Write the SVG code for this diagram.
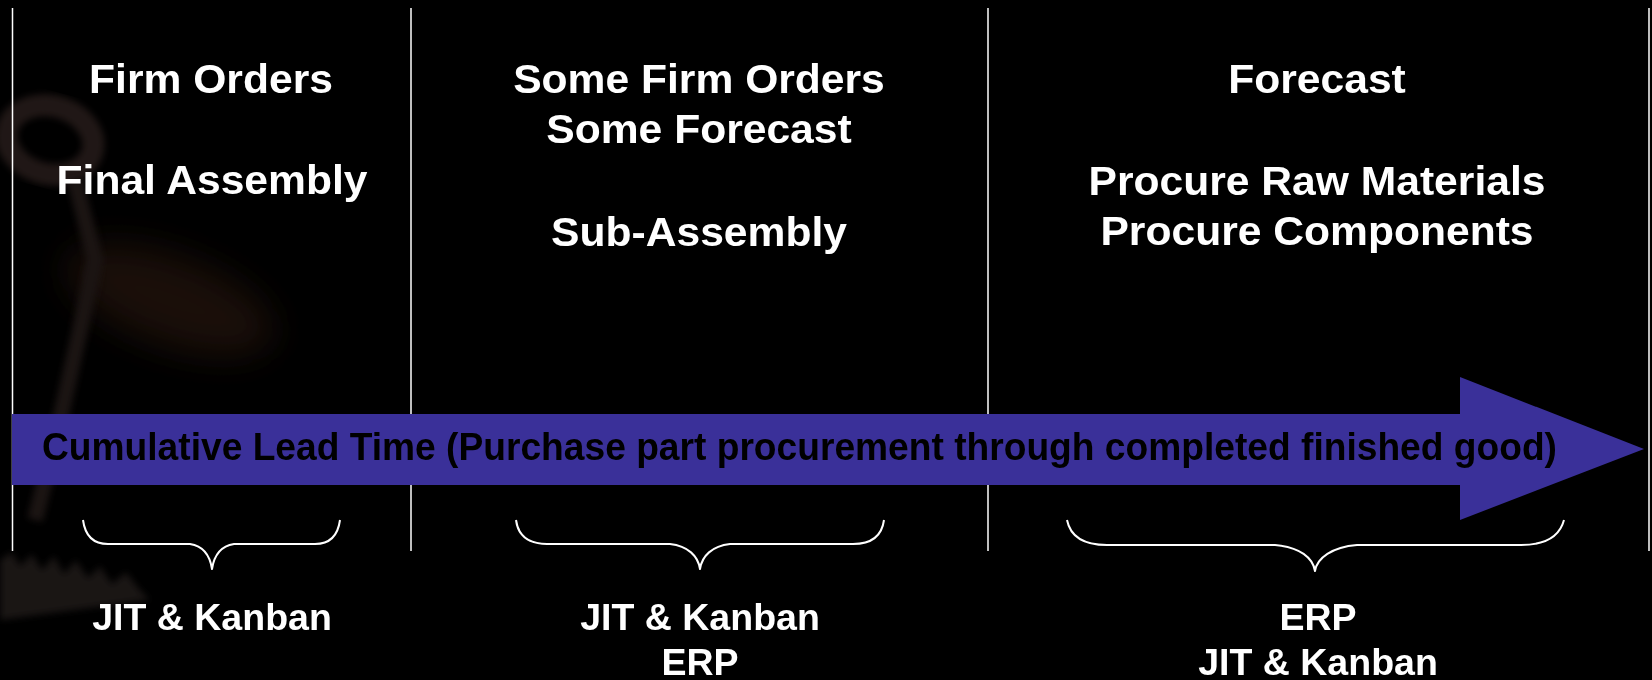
<svg xmlns="http://www.w3.org/2000/svg" width="1652" height="680" viewBox="0 0 1652 680">
<defs>
<style>
.h{font-family:"Liberation Sans",Arial,sans-serif;font-weight:bold;fill:#fff;text-anchor:middle}
.top{font-size:40px}
.bot{font-size:37.5px}
.div{stroke:#fff;stroke-width:1.5}
.brace{fill:none;stroke:#fff;stroke-width:2;stroke-linejoin:round}
</style>
<filter id="blur" x="-50%" y="-50%" width="200%" height="200%"><feGaussianBlur stdDeviation="18"/></filter>
<filter id="soft" x="-20%" y="-20%" width="140%" height="140%"><feGaussianBlur stdDeviation="3.5"/></filter>
</defs>
<rect width="1652" height="680" fill="#000"/>
<g id="background-key" opacity="0.45">
<ellipse cx="170" cy="300" rx="110" ry="45" fill="#3a2418" filter="url(#blur)" transform="rotate(20 170 300)"/>
<ellipse cx="50" cy="140" rx="44" ry="34" fill="none" stroke="#4a3632" stroke-width="22" filter="url(#soft)" transform="rotate(15 50 140)"/>
<path d="M75 180 L95 260 L80 330 L60 420 L35 520" fill="none" stroke="#3e2e2c" stroke-width="16" filter="url(#soft)"/>
<path d="M0 560 L12 552 L20 566 L32 554 L42 570 L54 556 L64 574 L76 560 L88 578 L100 566 L112 584 L126 572 L140 590 L150 600 L0 620 Z" fill="#3a302e" filter="url(#soft)"/>
</g>
<g id="dividers">
<line class="div" x1="12.5" y1="8" x2="12.5" y2="551"/>
<line class="div" x1="411" y1="8" x2="411" y2="551"/>
<line class="div" x1="988" y1="8" x2="988" y2="551"/>
<line class="div" x1="1649" y1="8" x2="1649" y2="551"/>
</g>
<g id="lead-time-arrow">
<polygon points="12,414 1460,414 1460,377 1644,449 1460,520 1460,485 12,485" fill="#3a3099"/>
<text x="42" y="460" font-family="'Liberation Sans',Arial,sans-serif" font-weight="bold" font-size="38" fill="#000" textLength="1515" lengthAdjust="spacingAndGlyphs">Cumulative Lead Time (Purchase part procurement through completed finished good)</text>
</g>
<g id="col1-header">
<text class="h top" transform="translate(211,93) scale(1.065,1)">Firm Orders</text>
<text class="h top" transform="translate(212,194) scale(1.065,1)">Final Assembly</text>
</g>
<g id="col2-header">
<text class="h top" transform="translate(699,93) scale(1.065,1)">Some Firm Orders</text>
<text class="h top" transform="translate(699,143) scale(1.065,1)">Some Forecast</text>
<text class="h top" transform="translate(699,246) scale(1.065,1)">Sub-Assembly</text>
</g>
<g id="col3-header">
<text class="h top" transform="translate(1317,93) scale(1.065,1)">Forecast</text>
<text class="h top" transform="translate(1317,195) scale(1.065,1)">Procure Raw Materials</text>
<text class="h top" transform="translate(1317,245) scale(1.065,1)">Procure Components</text>
</g>
<g id="connectors">
<path class="brace" d="M83,520 C85,535 92,544 108,544 L190,544 C203,546 210,556 212,569 C214,556 221,546 234,544 L315,544 C331,544 338,535 340,520"/>
<path class="brace" d="M516,520 C518,535 527,544 547,544 L670,544 C688,546 698,556 700,569 C702,556 712,546 730,544 L853,544 C873,544 882,535 884,520"/>
<path class="brace" d="M1067,520 C1070,535 1082,545 1107,545 L1275,545 C1300,547 1313,558 1315,571 C1317,558 1332,547 1357,545 L1521,545 C1548,545 1560,535 1564,520"/>
</g>
<g id="col1-methods">
<text class="h bot" x="212" y="630">JIT &amp; Kanban</text>
</g>
<g id="col2-methods">
<text class="h bot" x="700" y="630">JIT &amp; Kanban</text>
<text class="h bot" x="700" y="675">ERP</text>
</g>
<g id="col3-methods">
<text class="h bot" x="1318" y="630">ERP</text>
<text class="h bot" x="1318" y="675">JIT &amp; Kanban</text>
</g>
</svg>
